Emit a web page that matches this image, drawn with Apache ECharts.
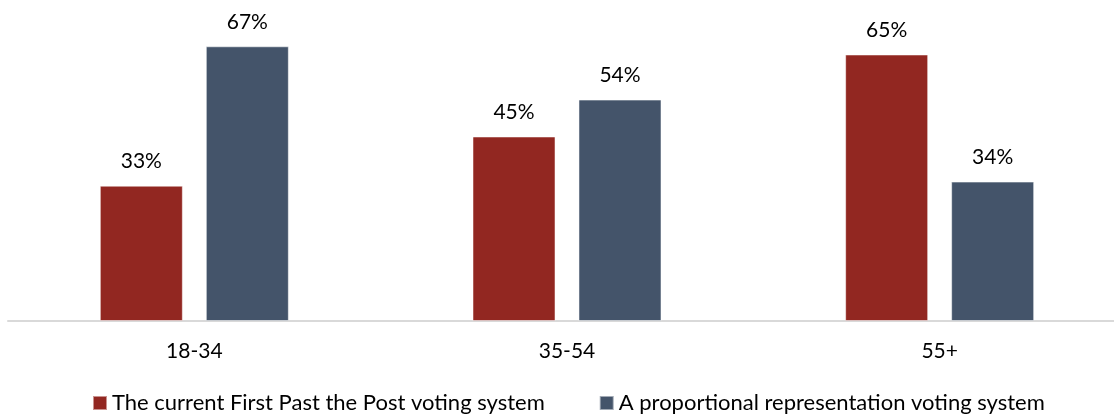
<!DOCTYPE html>
<html>
<head>
<meta charset="utf-8">
<script src="https://cdn.jsdelivr.net/npm/echarts@6/dist/echarts.min.js"></script>
<style>
  html, body { margin: 0; padding: 0; background: #ffffff; }
  #chart { width: 1114px; height: 419px; }
</style>
</head>
<body>
<div id="chart"></div>
<script>
// Age groups along the x axis
const ageGroups = ['18-34', '35-54', '55+'];

// Preferred voting system by age group (percent)
const firstPastThePost = [33, 45, 65];
const proportionalRep = [67, 54, 34];

const seriesNames = [
  'The current First Past the Post voting system',
  'A proportional representation voting system'
];

const FONT = 'Lato, "Open Sans", sans-serif';

const chart = echarts.init(document.getElementById('chart'), null, { renderer: 'canvas' });

const labelStyle = {
  show: true,
  position: 'top',
  distance: 14,
  formatter: p => p.value + '%',
  color: '#000000',
  fontFamily: FONT,
  fontSize: 21
};

chart.setOption({
  animation: false,
  backgroundColor: '#ffffff',
  // the plot area runs a little past the right edge of the canvas
  grid: { left: 8, width: 1118, top: 34, height: 287, containLabel: false, outerBoundsMode: 'none' },
  legend: {
    data: seriesNames,
    top: 392,
    left: 92,
    padding: 0,
    itemWidth: 14,
    itemHeight: 14,
    itemGap: 54,
    icon: 'rect',
    textStyle: { color: '#000000', fontFamily: FONT, fontSize: 22 }
  },
  xAxis: {
    type: 'category',
    data: ageGroups,
    axisLine: { show: true, lineStyle: { color: '#d9d9d9', width: 2 } },
    axisTick: { show: false },
    axisLabel: { color: '#000000', fontFamily: FONT, fontSize: 21, margin: 20 }
  },
  yAxis: {
    type: 'value',
    min: 0,
    max: 70,
    show: false,
    splitLine: { show: false }
  },
  series: [
    {
      name: seriesNames[0],
      type: 'bar',
      data: firstPastThePost,
      barWidth: 83,
      barGap: '27.7%',
      itemStyle: { color: '#922721', borderColor: 'rgba(255,255,255,0.5)', borderWidth: 1 },
      label: labelStyle
    },
    {
      name: seriesNames[1],
      type: 'bar',
      data: proportionalRep,
      barWidth: 83,
      barGap: '27.7%',
      itemStyle: { color: '#44546a', borderColor: 'rgba(255,255,255,0.5)', borderWidth: 1 },
      label: labelStyle
    }
  ]
});
</script>
</body>
</html>
